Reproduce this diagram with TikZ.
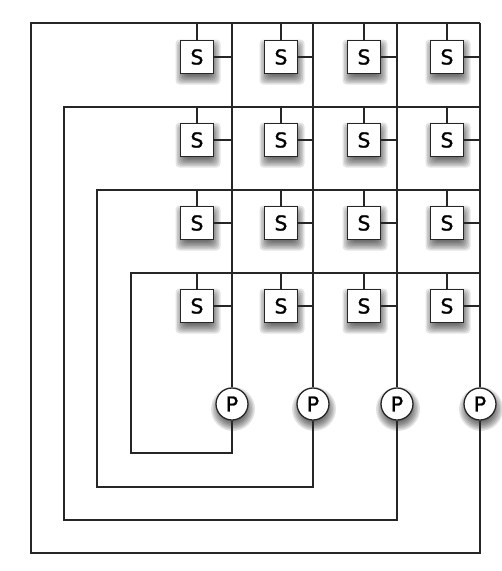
\documentclass[tikz,border=0pt]{standalone}
\usepackage{fontspec}
\setmainfont{DejaVu Sans}
\newfontfamily\lblfont[FakeBold=1.2]{DejaVu Sans}
\begin{document}
\begin{tikzpicture}[x=1pt,y=-1pt,
  wire/.style={line width=1.2pt, draw=black!85},
  sbox/.style={draw=black!85, line width=1.3pt, fill=white, minimum size=33pt, inner sep=0pt,
    font=\lblfont\fontsize{20.5}{20.5}\selectfont},
  pcirc/.style={circle, draw=black!85, line width=1.3pt, fill=white, minimum size=32pt, inner sep=0pt,
    font=\lblfont\fontsize{20.5}{20.5}\selectfont},
  shade/.style={fill=black, opacity=0.11}]
\useasboundingbox (0,0) rectangle (502,571);
% coordinates of loops
\coordinate (T1) at (232,23); \coordinate (T2) at (313,23); \coordinate (T3) at (397,23); \coordinate (T4) at (480,23);
\coordinate (B1) at (232,453); \coordinate (B2) at (313,487); \coordinate (B3) at (397,520); \coordinate (B4) at (480,553);
\coordinate (C1) at (131,453); \coordinate (C2) at (97,487); \coordinate (C3) at (64,520); \coordinate (C4) at (31,553);
\coordinate (L1) at (131,273); \coordinate (L2) at (97,190); \coordinate (L3) at (64,107); \coordinate (L4) at (31,23);
\coordinate (R1) at (480,273); \coordinate (R2) at (480,190); \coordinate (R3) at (480,107); \coordinate (R4) at (480,23);
% shadows
\foreach \x in {197,281,364,447}{
  \foreach \y in {57,140,223,306}{
    \foreach \k in {-3,-1.5,0,1.5,3,4.5,6}{
      \fill[shade, rounded corners=4pt] (\x-16.5-\k+1,\y+5-16.5-\k) rectangle (\x+16.5+\k+1,\y+5+16.5+\k);
    }
  }
}
\foreach \x in {232,313,397,480}{
  \foreach \k in {-3,-1.5,0,1.5,3,4.5,6}{
    \fill[shade] (\x+1,409) circle[radius=16+\k];
  }
}
% P nodes
\node[pcirc] (P1) at (232,404) {P};
\node[pcirc] (P2) at (313,404) {P};
\node[pcirc] (P3) at (397,404) {P};
\node[pcirc] (P4) at (480,404) {P};
% loops
\foreach \i in {1,...,4}{
  \draw[wire] (T\i) -- (P\i.north);
  \draw[wire] (P\i.south) -- (B\i) -- (C\i) -- (L\i) -- (R\i);
}
% S nodes
\foreach \r/\y/\ry in {1/57/23, 2/140/107, 3/223/190, 4/306/273}{
  \foreach \c/\x/\colx in {1/197/232, 2/281/313, 3/364/397, 4/447/480}{
    \node[sbox] (S\r\c) at (\x,\y) {S};
    \coordinate (N\r\c) at (\x,\ry);
    \coordinate (E\r\c) at (\colx,\y);
    \draw[wire] (N\r\c) -- (S\r\c.north);
    \draw[wire] (S\r\c.east) -- (E\r\c);
  }
}
\end{tikzpicture}
\end{document}
